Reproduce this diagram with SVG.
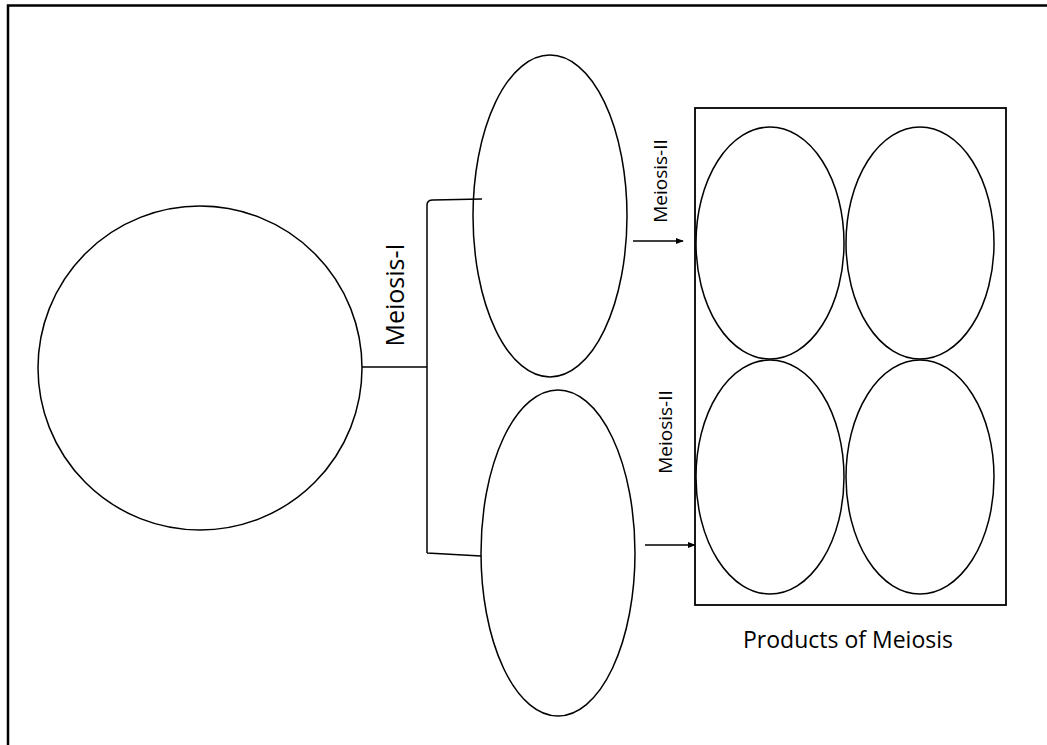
<svg xmlns="http://www.w3.org/2000/svg" width="1047" height="745" viewBox="0 0 1047 745">
<style>
.cell{fill:none;stroke:#000;stroke-width:1.5}
.ln{fill:none;stroke:#000;stroke-width:1.5}
.lbl{font-family:"Open Sans","Liberation Sans",sans-serif;font-size:19px;fill:#000}
</style>
<defs>
<marker id="arr" viewBox="0 0 10 10" refX="9" refY="5" markerWidth="8" markerHeight="8" orient="auto" markerUnits="userSpaceOnUse">
<path d="M0,1 L10,5 L0,9 z" fill="#000"/>
</marker>
</defs>
<rect width="1047" height="745" fill="#fff"/>
<path d="M8,745 V5.5 H1047" fill="none" stroke="#000" stroke-width="2.5"/>
<g id="parent-cell"><circle class="cell" cx="200" cy="368" r="162"/></g>
<g id="daughter-top"><ellipse class="cell" cx="550" cy="216" rx="77" ry="161"/></g>
<g id="daughter-bottom"><ellipse class="cell" cx="558" cy="553" rx="77" ry="163"/></g>
<g id="products">
<rect x="695" y="108" width="311" height="497" fill="none" stroke="#000" stroke-width="1.8"/>
<ellipse class="cell" cx="770" cy="243" rx="74" ry="116"/>
<ellipse class="cell" cx="920" cy="243" rx="74" ry="116"/>
<ellipse class="cell" cx="770" cy="477" rx="74" ry="117"/>
<ellipse class="cell" cx="920" cy="477" rx="74" ry="117"/>
<text class="lbl" x="848" y="648" text-anchor="middle" style="font-size:23px">Products of Meiosis</text>
</g>
<g id="connectors">
<path class="ln" d="M362,367 H427 M427,553 V205 Q427,200 433,200 L482,199 M427,553 L481,556"/>
<line class="ln" x1="633" y1="241" x2="683" y2="241" marker-end="url(#arr)"/>
<line class="ln" x1="645" y1="545" x2="695" y2="545" marker-end="url(#arr)"/>
</g>
<g id="labels">
<text class="lbl" transform="translate(404,295) rotate(-90)" text-anchor="middle" style="font-size:25px">Meiosis-I</text>
<text class="lbl" transform="translate(667,181) rotate(-90)" text-anchor="middle">Meiosis-II</text>
<text class="lbl" transform="translate(672,432) rotate(-90)" text-anchor="middle">Meiosis-II</text>
</g>
</svg>
